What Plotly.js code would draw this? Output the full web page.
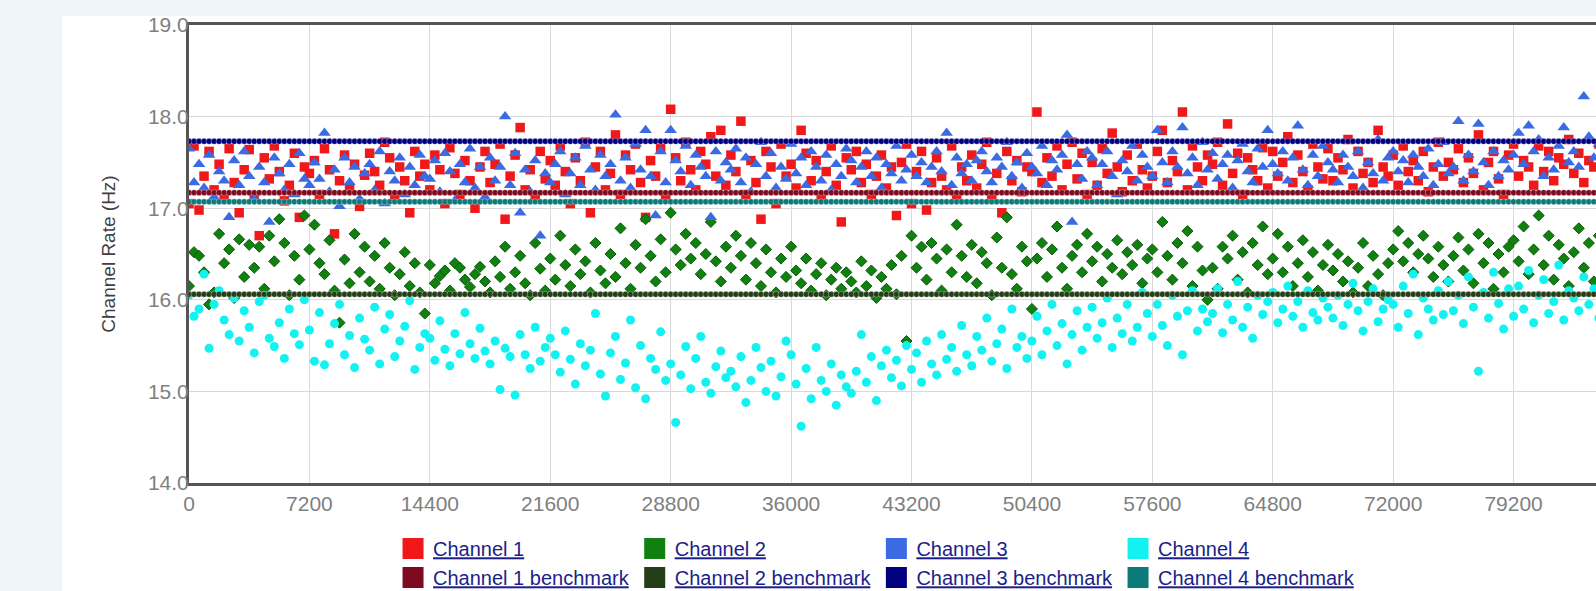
<!DOCTYPE html>
<html>
<head>
<meta charset="utf-8">
<script src="https://cdn.plot.ly/plotly-3.0.1.min.js"></script>
<style>
  html, body { margin: 0; padding: 0; overflow: hidden; background: #eff4fb; width: 1596px; height: 591px; }
  #chart { position: absolute; left: 62px; top: 0px; width: 1640px; height: 591px; }
</style>
</head>
<body>
<div id="chart"></div>
<script>
// ---- sampling (seconds) ----
const timeStart = 0;
const timeStep = 300;

// ---- series values (Hz), one row = one hour of samples ----
const channel1 = [
  17.05,17.68,16.98,17.35,17.62,17.20,17.48,17.10,17.65,17.28,16.95,17.42,
  17.64,17.12,16.70,17.55,17.32,17.68,17.40,17.08,17.25,17.60,16.90,17.45,
  17.38,17.52,17.15,17.65,17.42,16.72,17.30,17.58,17.22,17.48,17.02,17.36,
  17.60,17.40,17.25,17.72,17.55,17.12,17.45,17.30,16.95,17.62,17.35,17.48,
  17.20,17.58,17.42,17.05,17.66,17.38,17.15,17.52,17.30,17.00,17.45,17.62,
  17.28,17.48,17.70,16.88,17.35,17.58,17.88,17.20,17.42,17.10,17.62,17.32,
  17.52,17.25,17.68,17.40,17.05,17.55,17.30,17.72,16.95,17.45,17.62,17.20,
  17.38,17.80,17.15,17.58,17.42,17.70,17.28,16.90,17.52,17.35,17.65,17.10,
  18.08,17.55,17.30,17.72,17.42,17.20,17.62,17.48,17.78,17.35,17.85,17.25,
  17.58,17.40,17.95,17.15,17.52,17.28,16.88,17.62,17.45,17.05,17.70,17.35,
  17.48,17.22,17.85,17.60,17.30,17.52,17.10,17.40,17.68,17.25,16.85,17.55,
  17.42,17.62,17.28,17.48,17.15,17.35,17.58,17.22,17.45,16.92,17.50,17.70,
  17.05,17.40,17.62,16.98,17.28,17.55,17.35,17.20,17.68,17.12,17.45,17.30,
  17.58,17.22,17.48,17.72,17.10,17.38,16.95,17.62,17.30,17.52,17.18,17.45,
  17.40,18.05,17.28,17.55,17.35,17.68,17.20,17.48,17.72,17.32,17.60,17.15,
  17.50,17.25,17.65,17.38,17.82,17.45,17.18,17.58,17.30,17.70,17.42,17.22,
  17.35,17.62,17.85,17.28,17.52,17.40,18.05,17.20,17.68,17.45,17.30,17.58,
  17.48,17.72,17.25,17.92,17.38,17.60,17.15,17.55,17.42,17.30,17.66,17.22,
  17.62,17.35,17.50,17.78,17.28,17.58,17.40,17.20,17.70,17.45,17.32,17.65,
  17.30,17.55,17.42,17.75,17.22,17.62,17.38,17.50,17.28,17.85,17.45,17.35,
  17.58,17.25,17.68,17.40,17.52,17.30,17.62,17.18,17.45,17.72,17.35,17.50,
  17.42,17.65,17.28,17.55,17.38,17.80,17.20,17.50,17.62,17.32,17.15,17.58,
  17.70,17.35,17.52,17.45,17.25,17.68,17.40,17.62,17.30,17.55,17.48,17.75,
  17.38,17.60,17.28,17.52,17.45,17.70,17.22,17.58,17.40,17.65,17.35,17.50
];
const channel2 = [
  16.15,16.52,16.48,16.30,15.95,16.08,16.72,16.40,16.55,16.02,16.66,16.25,
  16.60,16.35,16.58,16.12,16.70,16.42,16.88,16.62,16.05,16.48,16.22,16.92,
  16.55,16.82,16.40,16.28,16.65,16.10,15.75,16.44,16.18,16.72,16.30,16.58,
  16.20,16.48,16.12,16.62,16.35,16.05,16.28,16.52,16.15,16.40,16.08,15.85,
  16.38,16.18,16.26,16.32,16.10,16.40,16.35,16.22,16.14,16.28,16.36,16.20,
  16.08,16.42,16.25,16.58,16.12,16.30,16.48,16.18,16.05,16.62,16.34,16.10,
  16.45,16.22,16.70,16.38,16.15,16.55,16.28,16.42,16.08,16.62,16.32,16.18,
  16.50,16.25,16.78,16.40,16.12,16.60,16.35,16.88,16.48,16.20,16.66,16.30,
  16.95,16.55,16.38,16.72,16.45,16.62,16.28,16.50,16.85,16.42,16.20,16.58,
  16.35,16.70,16.48,16.22,16.62,16.40,16.15,16.55,16.30,16.08,16.45,16.25,
  16.58,16.32,16.18,16.45,16.10,16.28,16.40,16.05,16.22,16.35,16.12,16.30,
  16.20,16.08,16.42,16.15,16.32,16.02,16.25,16.12,16.38,16.06,16.48,15.55,
  16.70,16.35,16.58,16.22,16.62,16.45,16.10,16.55,16.30,16.82,16.48,16.25,
  16.60,16.18,16.52,16.40,16.05,16.68,16.35,16.90,16.28,16.12,16.58,16.42,
  15.90,16.45,16.62,16.25,16.55,16.80,16.35,16.12,16.48,16.60,16.30,16.72,
  16.42,16.58,16.20,16.50,16.35,16.65,16.28,16.52,16.38,16.60,16.18,16.45,
  16.55,16.30,16.85,16.48,16.22,16.62,16.40,16.75,16.15,16.58,16.32,16.00,
  16.35,16.12,16.58,16.45,16.70,16.22,16.52,16.08,16.62,16.38,16.80,16.28,
  16.45,16.72,16.30,16.58,16.15,16.40,16.65,16.25,16.52,16.10,16.38,16.60,
  16.32,16.50,16.20,16.42,16.08,16.35,16.62,16.15,16.48,16.28,16.05,16.40,
  16.55,16.75,16.42,16.62,16.30,16.50,16.70,16.45,16.25,16.58,16.38,16.20,
  16.48,16.68,16.32,16.55,16.18,16.72,16.40,16.62,16.12,16.50,16.30,16.58,
  16.65,16.42,16.80,16.28,16.55,16.92,16.38,16.70,16.22,16.60,16.45,16.15,
  16.52,16.78,16.35,16.62,16.20,16.70,16.48,16.58,16.30,16.66,16.42,16.55
];
const channel3 = [
  17.65,17.28,17.48,17.22,17.58,17.12,17.40,17.30,16.90,17.52,17.25,17.62,
  17.35,17.10,17.45,17.28,16.85,17.55,17.38,17.20,17.48,17.15,17.60,17.32,
  17.25,17.50,17.32,17.82,17.18,17.42,17.02,17.55,17.28,17.45,17.10,17.38,
  17.48,17.20,17.62,17.05,17.40,17.30,17.55,17.15,17.45,17.25,17.58,17.35,
  17.32,17.52,17.18,17.60,17.40,17.08,17.48,17.28,17.65,17.22,17.45,17.12,
  17.55,17.30,17.45,18.00,17.25,17.60,16.95,17.42,17.18,17.52,16.70,17.38,
  17.28,17.48,17.62,17.15,17.38,17.55,17.25,17.68,17.42,17.20,17.58,17.35,
  17.48,18.02,17.30,17.55,17.22,17.70,17.42,17.85,17.35,16.92,17.62,17.28,
  17.85,17.52,17.40,17.68,17.25,17.58,17.45,17.35,16.90,17.62,17.30,17.50,
  17.42,17.65,17.28,17.55,17.18,17.48,17.72,17.35,17.60,17.22,17.45,17.32,
  17.70,17.38,17.55,17.25,17.62,17.45,17.30,17.58,17.20,17.48,17.35,17.65,
  17.52,17.28,17.45,17.62,17.35,17.55,17.22,17.48,17.38,17.68,17.30,17.42,
  17.58,17.35,17.50,17.28,17.45,17.62,17.40,17.82,17.25,17.55,17.38,17.48,
  17.30,17.52,17.62,17.40,17.28,17.55,17.45,17.72,17.35,17.50,17.22,17.60,
  17.45,17.38,17.68,17.25,17.52,17.42,17.58,17.80,16.85,17.48,17.32,17.62,
  17.55,17.25,17.48,17.62,17.35,17.15,17.52,17.40,17.68,17.30,17.58,17.45,
  17.35,17.85,17.50,17.28,17.62,17.45,17.88,17.38,17.55,17.25,17.72,17.42,
  17.60,17.32,17.48,17.58,17.22,17.52,17.70,17.40,17.28,17.65,17.45,17.85,
  17.48,17.38,17.62,17.30,17.55,17.90,17.42,17.25,17.58,17.35,17.68,17.50,
  17.42,17.28,17.58,17.45,17.35,17.62,17.22,17.50,17.38,17.75,17.30,17.55,
  17.62,17.40,17.52,17.28,17.58,17.45,17.35,17.65,17.25,17.48,17.72,17.38,
  17.45,17.95,17.30,17.58,17.40,17.92,17.50,17.25,17.62,17.35,17.52,17.42,
  17.58,17.82,17.48,17.90,17.62,17.75,17.35,17.55,17.42,17.68,17.88,17.50,
  17.62,17.45,18.22,17.78,17.55,17.70,17.40,17.65,17.52,17.82,17.48,17.60
];
const channel4 = [
  16.05,15.82,15.90,16.28,15.47,15.95,16.10,15.78,15.62,16.02,15.55,15.88,
  15.70,15.42,15.98,16.05,15.58,15.49,15.75,15.36,15.90,15.63,15.51,16.00,
  15.67,15.33,15.86,15.29,15.52,15.74,15.95,15.40,15.61,15.26,15.80,15.57,
  15.45,15.92,15.30,15.68,15.84,15.38,15.55,15.71,15.99,15.24,15.48,15.63,
  15.58,15.34,15.77,15.46,15.28,15.63,15.41,15.86,15.52,15.36,15.69,15.44,
  15.30,15.55,15.02,15.47,15.38,14.96,15.62,15.40,15.25,15.70,15.33,15.48,
  15.58,15.40,15.21,15.66,15.35,15.08,15.52,15.28,15.45,15.85,15.19,14.95,
  15.42,15.60,15.13,15.31,15.78,15.04,15.50,14.92,15.36,15.24,15.65,15.12,
  15.30,14.66,15.18,15.49,15.03,15.36,15.60,15.10,14.98,15.27,15.44,15.15,
  15.22,15.05,15.38,14.88,15.12,15.48,15.26,15.00,15.33,14.95,15.16,15.55,
  15.40,15.08,14.62,15.25,14.92,15.48,15.12,15.00,15.30,14.85,15.18,15.05,
  14.98,15.22,15.62,15.10,15.38,14.90,15.28,15.45,15.15,15.34,15.06,15.50,
  15.24,15.42,15.10,15.55,15.30,15.18,15.62,15.35,15.48,15.22,15.72,15.40,
  15.28,15.60,15.45,15.80,15.33,15.52,15.68,15.25,15.90,15.48,15.60,15.36,
  15.55,15.82,15.40,15.66,15.95,15.50,15.74,15.30,15.62,15.88,15.45,15.70,
  15.92,15.58,15.75,16.02,15.48,15.80,15.63,15.95,15.55,15.70,16.08,15.85,
  15.60,15.95,15.72,15.50,16.05,15.82,15.40,15.88,16.10,15.66,15.90,15.76,
  15.85,16.12,15.64,15.95,15.78,16.20,15.70,15.92,15.58,16.05,15.84,15.98,
  16.08,15.75,15.90,16.15,15.82,15.98,15.70,16.10,15.86,15.78,16.02,15.92,
  15.80,16.05,15.72,15.95,16.18,15.88,15.66,15.98,16.12,15.76,15.90,16.00,
  15.95,15.70,16.15,15.85,16.28,15.62,16.02,15.90,15.78,16.10,15.84,16.20,
  15.88,16.05,15.74,16.25,15.92,15.22,16.08,15.80,16.30,15.96,15.68,16.12,
  15.82,16.15,15.90,16.32,15.75,16.05,16.22,15.85,15.98,16.38,15.78,16.10,
  16.02,15.88,16.25,15.95,16.12,15.80,16.30,16.05,15.92,16.18,15.86,16.08
];

// ---- benchmark levels (Hz) ----
const benchmark1 = 17.17;
const benchmark2 = 16.06;
const benchmark3 = 17.73;
const benchmark4 = 17.07;

// ---- names / ticks ----
const seriesNames = ['Channel 1', 'Channel 2', 'Channel 3', 'Channel 4'];
const benchmarkNames = ['Channel 1 benchmark', 'Channel 2 benchmark', 'Channel 3 benchmark', 'Channel 4 benchmark'];
const xTickValues = [0, 7200, 14400, 21600, 28800, 36000, 43200, 50400, 57600, 64800, 72000, 79200];
const yTickValues = [14, 15, 16, 17, 18, 19];

// ---- styles ----
const seriesColors = ['#f01818', '#108010', '#3a6be2', '#12f2f0'];
const benchColors = ['#7d0a1e', '#243f18', '#000080', '#0b7a78'];
const seriesSymbols = ['square', 'diamond', 'triangle-up', 'circle'];
const seriesSizes = [9.5, 8.5, 11, 9];

const seriesData = [channel1, channel2, channel3, channel4];
const benchData = [benchmark1, benchmark2, benchmark3, benchmark4];
const groups = ['g1', 'g2', 'g3', 'g4'];

const traces = [];
// measured series
seriesData.forEach((ys, i) => {
  traces.push({
    type: 'scatter', mode: 'markers', name: seriesNames[i],
    x0: timeStart, dx: timeStep, y: ys,
    legendgroup: groups[i], showlegend: false,
    marker: { symbol: seriesSymbols[i], size: seriesSizes[i], color: seriesColors[i],
              line: { width: i === 1 ? 1 : 0, color: '#0a5a0a' } },
    hoverinfo: 'x+y+name'
  });
});
// benchmark series (constant level per sample)
benchData.forEach((v, i) => {
  traces.push({
    type: 'scatter', mode: 'markers', name: benchmarkNames[i],
    x0: timeStart, dx: timeStep, y: new Array(seriesData[i].length).fill(v),
    legendgroup: groups[i], showlegend: false,
    marker: { symbol: 'circle', size: 6, color: benchColors[i],
              line: { width: 0.8, color: 'rgba(255,255,255,0.4)' } },
    hoverinfo: 'x+y+name'
  });
});
// legend entries (square swatches, one column per channel)
for (let i = 0; i < 4; i++) {
  traces.push({ type: 'scatter', mode: 'markers', x: [null], y: [null], name: seriesNames[i],
    legendgroup: groups[i], showlegend: true, hoverinfo: 'skip',
    marker: { symbol: 'square', size: 16, color: seriesColors[i], line: { width: 5, color: seriesColors[i] } } });
  traces.push({ type: 'scatter', mode: 'markers', x: [null], y: [null], name: benchmarkNames[i],
    legendgroup: groups[i], showlegend: true, hoverinfo: 'skip',
    marker: { symbol: 'square', size: 16, color: benchColors[i], line: { width: 5, color: benchColors[i] } } });
}

const layout = {
  width: 1640, height: 591,
  margin: { l: 127, r: 68, t: 25, b: 108, pad: 0, autoexpand: false },
  paper_bgcolor: '#ffffff', plot_bgcolor: '#ffffff',
  font: { family: 'Arial, "Liberation Sans", sans-serif', color: '#808080' },
  showlegend: true,
  // light page band above the white chart panel
  shapes: [{
    type: 'rect', xref: 'paper', yref: 'paper', layer: 'below',
    x0: -0.09, x1: 1.1, y0: 1.01965, y1: 1.06,
    fillcolor: '#eff4fb', line: { width: 0 }
  }],
  xaxis: {
    range: [0, 86400], tickvals: xTickValues, ticktext: xTickValues.map(String),
    showgrid: true, gridcolor: '#d9d9d9', gridwidth: 1, zeroline: false,
    showline: true, linecolor: '#555555', linewidth: 3, mirror: true,
    ticks: '', tickfont: { size: 21, color: '#808080' }, ticklabelstandoff: 0
  },
  yaxis: {
    range: [14, 19], tickvals: yTickValues, ticktext: yTickValues.map(v => v.toFixed(1)),
    showgrid: true, gridcolor: '#d9d9d9', gridwidth: 1, zeroline: false,
    showline: true, linecolor: '#555555', linewidth: 3, mirror: true,
    ticks: '', tickfont: { size: 21, color: '#808080' }, ticklabelstandoff: -7,
    ticklabeloverflow: 'allow',
    title: { text: 'Channel Rate (Hz)', font: { size: 19, color: '#404040' }, standoff: 28 }
  },
  legend: {
    orientation: 'h', traceorder: 'grouped', tracegroupgap: 0,
    x: 0.1412, xanchor: 'left', y: -0.1004, yanchor: 'top',
    bgcolor: 'rgba(0,0,0,0)', itemwidth: 30,
    font: { family: 'Arial, "Liberation Sans", sans-serif', size: 20, color: '#1c1f8a', lineposition: 'under' }
  }
};

Plotly.newPlot('chart', traces, layout, { displayModeBar: false, responsive: false });
</script>
</body>
</html>
